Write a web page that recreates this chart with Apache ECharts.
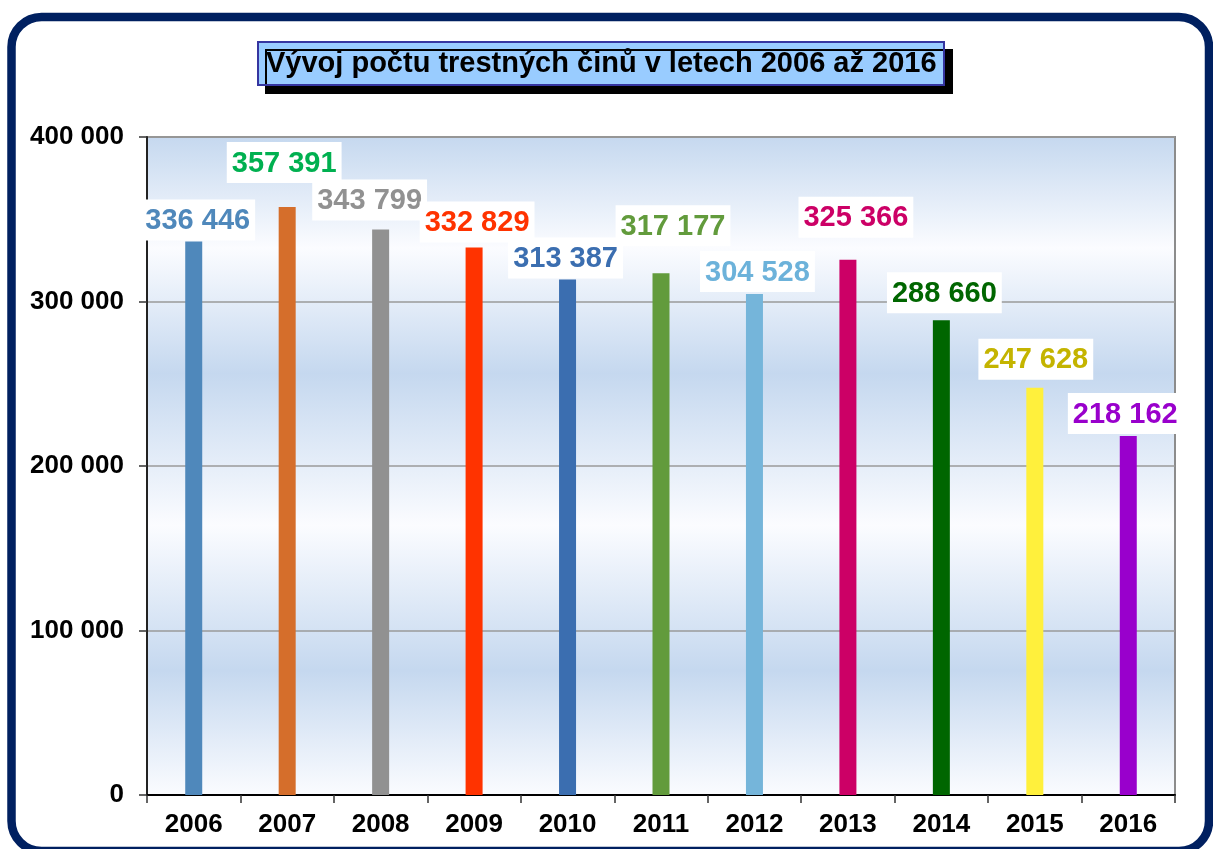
<!DOCTYPE html>
<html>
<head>
<meta charset="utf-8">
<title>Vývoj počtu trestných činů</title>
<script src="https://cdn.jsdelivr.net/npm/echarts@6/dist/echarts.min.js"></script>
<style>
    html,body{margin:0;padding:0;background:#fff;}
    #main{width:1213px;height:849px;}
</style>
</head>
<body>
<div id="main"></div>
<script>
//data
var years = ['2006','2007','2008','2009','2010','2011','2012','2013','2014','2015','2016'];
var crimes = [336446, 357391, 343799, 332829, 313387, 317177, 304528, 325366, 288660, 247628, 218162];
var yTicks = [0, 100000, 200000, 300000, 400000];

//barvy sloupcu a popisku
var barColors = ['#4f88bb','#d56e2b','#919191','#ff3300','#3b6eb0','#629b3c','#75b5da','#cc0066','#006600','#fff03c','#9900cc'];
var labelColors = ['#4f88bb','#00b050','#919191','#ff3300','#3b6eb0','#629b3c','#6cb2da','#cc0066','#006600','#c4b400','#9900cc'];
//posun popisku [dx, mezera nad sloupcem]
var labelShift = [[4,1],[-3,24],[-11,9],[3,5],[-2,1],[12,27],[3,2],[8,22],[3,7],[1,8],[-3,2]];

function fmt(v){
    return String(v).replace(/\B(?=(\d{3})+(?!\d))/g, ' ');
}

var font = '"Liberation Sans", Arial, sans-serif';
var myChart = echarts.init(document.getElementById('main'));

var barData = [];
for(var i = 0;i<crimes.length;i++){
    barData.push({
        value: crimes[i],
        itemStyle: {color: barColors[i]},
        label: {
            color: labelColors[i],
            distance: labelShift[i][1],
            offset: [labelShift[i][0], 0]
        }
    });
}

var option = {
    animation: false,
    title: {
        text: 'Vývoj počtu trestných činů v letech 2006 až 2016',
        left: 258,
        top: 42,
        padding: [5, 8, 5, 8],
        backgroundColor: '#99ccff',
        borderColor: '#3535a0',
        borderWidth: 2,
        shadowColor: '#000',
        shadowBlur: 0,
        shadowOffsetX: 8,
        shadowOffsetY: 8,
        textStyle: {
            fontFamily: font,
            fontSize: 29,
            fontWeight: 'bold',
            color: '#000',
            lineHeight: 33
        }
    },
    graphic: [{
        type: 'rect',
        z: 100,
        silent: true,
        shape: {x: 11.5, y: 17, width: 1197.5, height: 834, r: 30},
        style: {fill: 'none', stroke: '#002060', lineWidth: 8.5}
    }],
    grid: {
        left: 147,
        right: 38,
        top: 137,
        bottom: 54,
        show: true,
        borderColor: '#8c8c8c',
        borderWidth: 2,
        backgroundColor: new echarts.graphic.LinearGradient(0, 0, 0, 1, [
            {offset: 0, color: '#c5d8ef'},
            {offset: 0.17, color: '#fbfcff'},
            {offset: 0.36, color: '#c5d8ef'},
            {offset: 0.59, color: '#fbfcff'},
            {offset: 0.81, color: '#c5d8ef'},
            {offset: 1, color: '#fbfcff'}
        ])
    },
    xAxis: {
        type: 'category',
        data: years,
        axisLine: {lineStyle: {color: '#000', width: 2}},
        axisTick: {show: true, length: 8, alignWithLabel: false, lineStyle: {color: '#333', width: 1.5}},
        axisLabel: {
            margin: 17,
            fontFamily: font,
            fontSize: 26,
            fontWeight: 'bold',
            color: '#000'
        }
    },
    yAxis: {
        type: 'value',
        min: yTicks[0],
        max: yTicks[yTicks.length-1],
        interval: yTicks[1]-yTicks[0],
        axisLine: {show: true, lineStyle: {color: '#222', width: 2}},
        axisTick: {show: true, length: 8, lineStyle: {color: '#333', width: 1.5}},
        splitLine: {show: true, lineStyle: {color: '#9a9a9a', width: 1.5}},
        axisLabel: {
            margin: 23,
            fontFamily: font,
            fontSize: 26,
            fontWeight: 'bold',
            color: '#000',
            formatter: function(v){ return fmt(v); }
        }
    },
    series: [{
        type: 'bar',
        barWidth: 17,
        data: barData,
        label: {
            show: true,
            position: 'top',
            fontFamily: font,
            fontSize: 29,
            fontWeight: 'bold',
            lineHeight: 31,
            backgroundColor: '#fff',
            padding: [6, 5, 4, 5],
            formatter: function(p){ return fmt(p.value); }
        }
    }]
};
myChart.setOption(option);
</script>
</body>
</html>
